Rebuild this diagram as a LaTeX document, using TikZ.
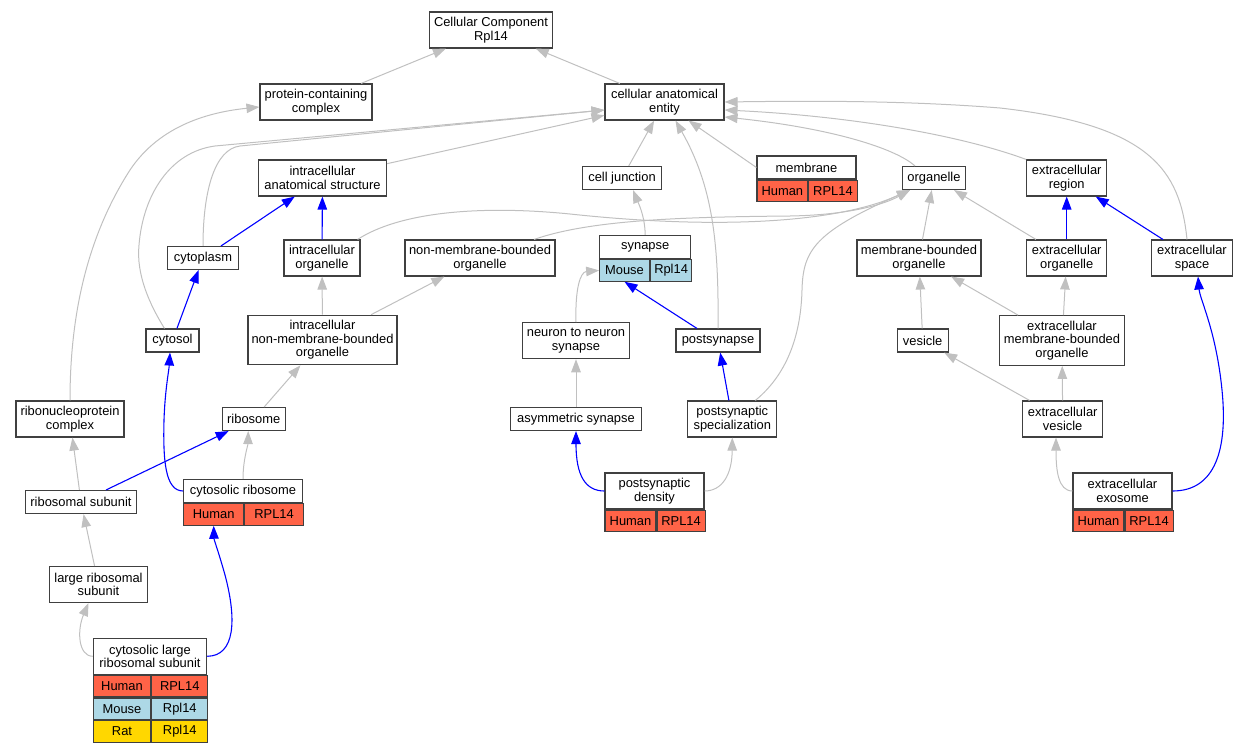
\documentclass[tikz,border=0pt]{standalone}
\usepackage{fontspec}
\setmainfont{Liberation Sans}
\usetikzlibrary{arrows.meta,positioning}

\definecolor{human}{HTML}{FF6347}
\definecolor{mouse}{HTML}{ADD8E6}
\definecolor{rat}{HTML}{FFD700}
\definecolor{isagray}{HTML}{C0C0C0}

\begin{document}
\begin{tikzpicture}[x=1pt, y=-1pt,
  term/.style={draw=black!75, line width=1.1pt, fill=white, align=center, inner sep=1pt,
    font=\fontsize{12.9}{13.5}\selectfont},
  one/.style={term, minimum height=23pt},
  two/.style={term, minimum height=36pt},
  three/.style={term, minimum height=49.6pt},
  cell/.style={term, minimum height=21.6pt, anchor=north west},
  isa/.style={draw=isagray, line width=1pt, -{Triangle[length=13pt,width=9.5pt]}},
  partof/.style={draw=blue, line width=1.1pt, -{Triangle[length=13pt,width=9.5pt]}}]
\useasboundingbox (0,0) rectangle (1248,749);

% top of the graph
\node[two, minimum width=123pt] (root) at (491,30) {Cellular Component\\Rpl14};
\node[two, minimum width=119pt] (cae) at (664.5,102) {cellular anatomical\\entity};
\node[two, minimum width=112pt] (pcc) at (316,102) {protein-containing\\complex};

% second row
\node[two, minimum width=128pt] (ias) at (322.5,178) {intracellular\\anatomical structure};
\node[one, minimum width=79pt] (cj) at (622,178) {cell junction};
\node[one, minimum width=99pt] (membraneH) at (806.5,167.5) {membrane};
\node[cell, fill=human, minimum width=50.7pt] (membraneHum) at (membraneH.south west) {Human};
\node[cell, fill=human, minimum width=48.3pt, right=0pt of membraneHum] (membraneGene) {RPL14};
\node[one, minimum width=63pt] (organelle) at (934,178) {organelle};
\node[two, minimum width=80pt] (er) at (1066.7,178) {extracellular\\region};

% third row
\node[one, minimum width=71pt] (cytoplasm) at (203,258) {cytoplasm};
\node[two, minimum width=76pt] (io) at (322,258) {intracellular\\organelle};
\node[two, minimum width=150pt] (nmbo) at (480,258) {non-membrane-bounded\\organelle};
\node[one, minimum width=91pt] (synapseH) at (645.2,247) {synapse};
\node[cell, fill=mouse, minimum width=49.6pt] (synapseM) at (synapseH.south west) {Mouse};
\node[cell, fill=mouse, minimum width=41.4pt, right=0pt of synapseM] (synapseGene) {Rpl14};
\node[two, minimum width=124pt] (mbo) at (919,258) {membrane-bounded\\organelle};
\node[two, minimum width=80pt] (eo) at (1066.7,258) {extracellular\\organelle};
\node[two, minimum width=80.6pt] (es) at (1192,258) {extracellular\\space};

% fourth row
\node[one, minimum width=53pt] (cytosol) at (172.5,340.5) {cytosol};
\node[three, minimum width=149pt] (inmbo) at (322.5,340) {intracellular\\non-membrane-bounded\\organelle};
\node[two, minimum width=107pt] (nts) at (576,340.7) {neuron to neuron\\synapse};
\node[one, minimum width=84pt] (postsynapse) at (718,340.5) {postsynapse};
\node[one, minimum width=51pt] (vesicle) at (922.7,340.5) {vesicle};
\node[three, minimum width=124.7pt] (embo) at (1062,340.5) {extracellular\\membrane-bounded\\organelle};

% fifth row
\node[two, minimum width=108pt] (rnp) at (70,419) {ribonucleoprotein\\complex};
\node[one, minimum width=62.7pt] (ribosome) at (253.7,419) {ribosome};
\node[one, minimum width=130.7pt] (asym) at (576,419) {asymmetric synapse};
\node[two, minimum width=89pt] (pspec) at (732.3,419) {postsynaptic\\specialization};
\node[two, minimum width=80pt] (ev) at (1062.7,419) {extracellular\\vesicle};

% annotated terms
\node[one, minimum width=111.7pt] (rs) at (81,502) {ribosomal subunit};
\node[one, minimum width=118.6pt] (cribH) at (243,491) {cytosolic ribosome};
\node[cell, fill=human, minimum width=60pt] (cribHum) at (cribH.south west) {Human};
\node[cell, fill=human, minimum width=58.6pt, right=0pt of cribHum] (cribGene) {RPL14};
\node[two, minimum width=99pt] (psdH) at (654.5,491) {postsynaptic\\density};
\node[cell, fill=human, minimum width=51pt] (psdHum) at (psdH.south west) {Human};
\node[cell, fill=human, minimum width=48pt, right=0pt of psdHum] (psdGene) {RPL14};
\node[two, minimum width=99pt] (exoH) at (1122.5,491) {extracellular\\exosome};
\node[cell, fill=human, minimum width=51pt] (exoHum) at (exoH.south west) {Human};
\node[cell, fill=human, minimum width=48pt, right=0pt of exoHum] (exoGene) {RPL14};
\node[two, minimum width=98.3pt] (lrs) at (98.5,584.5) {large ribosomal\\subunit};
\node[two, minimum width=113.4pt] (clrsH) at (150,656.3) {cytosolic large\\ribosomal subunit};
\node[cell, fill=human, minimum width=57.4pt] (clrsHum) at (clrsH.south west) {Human};
\node[cell, fill=human, minimum width=56pt, right=0pt of clrsHum] (clrsHumGene) {RPL14};
\node[cell, fill=mouse, minimum width=57.4pt] (clrsMou) at (clrsHum.south west) {Mouse};
\node[cell, fill=mouse, minimum width=56pt, right=0pt of clrsMou] (clrsMouGene) {Rpl14};
\node[cell, fill=rat, minimum width=57.4pt] (clrsRat) at (clrsMou.south west) {Rat};
\node[cell, fill=rat, minimum width=56pt, right=0pt of clrsRat] (clrsRatGene) {Rpl14};

% is a
\draw[isa] (pcc) -- (root);
\draw[isa] (cae) -- (root);
\draw[isa] (ias) -- (cae);
\draw[isa] (cj) -- (cae);
\draw[isa] (membraneH.west) -- ([xshift=24pt]cae.south);
\draw[isa] (postsynapse.north) .. controls (719,240) and (712,185) .. ([xshift=11pt]cae.south);
\draw[isa] (cytoplasm.north) .. controls (203,190) and (215,149) .. (240,146) -- ([yshift=-8pt]cae.west);
\draw[isa] ([xshift=-8pt]cytosol.north) .. controls (150,305) and (136,275) .. (139,245)
  .. controls (143,195) and (170,152) .. (215,146) -- ([yshift=-8pt]cae.west);
\draw[isa] ([xshift=-19pt]organelle.north) .. controls (895,148) and (830,128) .. ([yshift=-15pt]cae.east);
\draw[isa] (er.north west) .. controls (960,135) and (850,116) .. ([yshift=-8pt]cae.east);
\draw[isa] ([xshift=-5pt]es.north) .. controls (1180,170) and (1150,125) .. (1000,108)
  .. controls (900,100) and (800,101) .. (cae.east);
\draw[isa] ([xshift=-3pt]io.north east) .. controls (400,212) and (480,205) .. (570,214)
  .. controls (700,228) and (830,226) .. ([xshift=-24pt]organelle.south);
\draw[isa] ([xshift=54pt]nmbo.north) .. controls (590,220) and (680,217) .. (790,216)
  .. controls (850,215) and (885,204) .. ([xshift=-24pt]organelle.south);
\draw[isa] ([xshift=23pt]pspec.north) .. controls (790,372) and (801,330) .. (802,290)
  .. controls (803,250) and (815,232) .. ([xshift=-24pt]organelle.south);
\draw[isa] (mbo) -- (organelle);
\draw[isa] (eo) -- (organelle);
\draw[isa] (vesicle) -- (mbo);
\draw[isa] (embo) -- (mbo);
\draw[isa] (embo) -- (eo);
\draw[isa] (ev) -- (vesicle);
\draw[isa] (ev) -- (embo);
\draw[isa] (exoH.west) .. controls (1058,491) and (1056,470) .. ([xshift=-6.7pt]ev.south);
\draw[isa] (synapseH.north) .. controls (645,215) and (637,200) .. ([xshift=11pt]cj.south);
\draw[isa] (nts.north) .. controls (575,290) and (580,272) .. (synapseM.west);
\draw[isa] (asym) -- (nts);
\draw[isa] (psdH.east) .. controls (722,491) and (732,475) .. (pspec.south);
\draw[isa] (inmbo) -- (io);
\draw[isa] (inmbo) -- (nmbo);
\draw[isa] (ribosome) -- (inmbo);
\draw[isa] (cribH.north) .. controls (243,460) and (248,445) .. ([xshift=-5.5pt]ribosome.south);
\draw[isa] (rs) -- (rnp);
\draw[isa] (lrs) -- (rs);
\draw[isa] (clrsH.west) .. controls (78,656) and (77,630) .. ([xshift=-10pt]lrs.south);
\draw[isa] (rnp.north) .. controls (70,320) and (85,240) .. (130,170)
  .. controls (160,125) and (210,112) .. ([yshift=-5pt]pcc.west);

% part of
\draw[partof] (cytoplasm) -- (ias);
\draw[partof] (io) -- (ias);
\draw[partof] (cytosol) -- (cytoplasm);
\draw[partof] (cribH.west) .. controls (165,491) and (163,460) .. (164,420)
  .. controls (165,390) and (169,370) .. ([xshift=-2.5pt]cytosol.south);
\draw[partof] (clrsH.east) .. controls (235,656) and (237,620) .. (225,575)
  .. controls (218,550) and (214,540) .. (cribHum.south);
\draw[partof] (rs) -- (ribosome);
\draw[partof] ([xshift=-21pt]postsynapse.north) -- (synapseM.south);
\draw[partof] (pspec) -- (postsynapse);
\draw[partof] (psdH.west) .. controls (585,491) and (576,475) .. (asym.south);
\draw[partof] (eo) -- (er);
\draw[partof] (es) -- (er);
\draw[partof] (exoH.east) .. controls (1215,491) and (1228,450) .. (1222,390)
  .. controls (1216,330) and (1200,300) .. ([xshift=6pt]es.south);
\end{tikzpicture}
\end{document}
